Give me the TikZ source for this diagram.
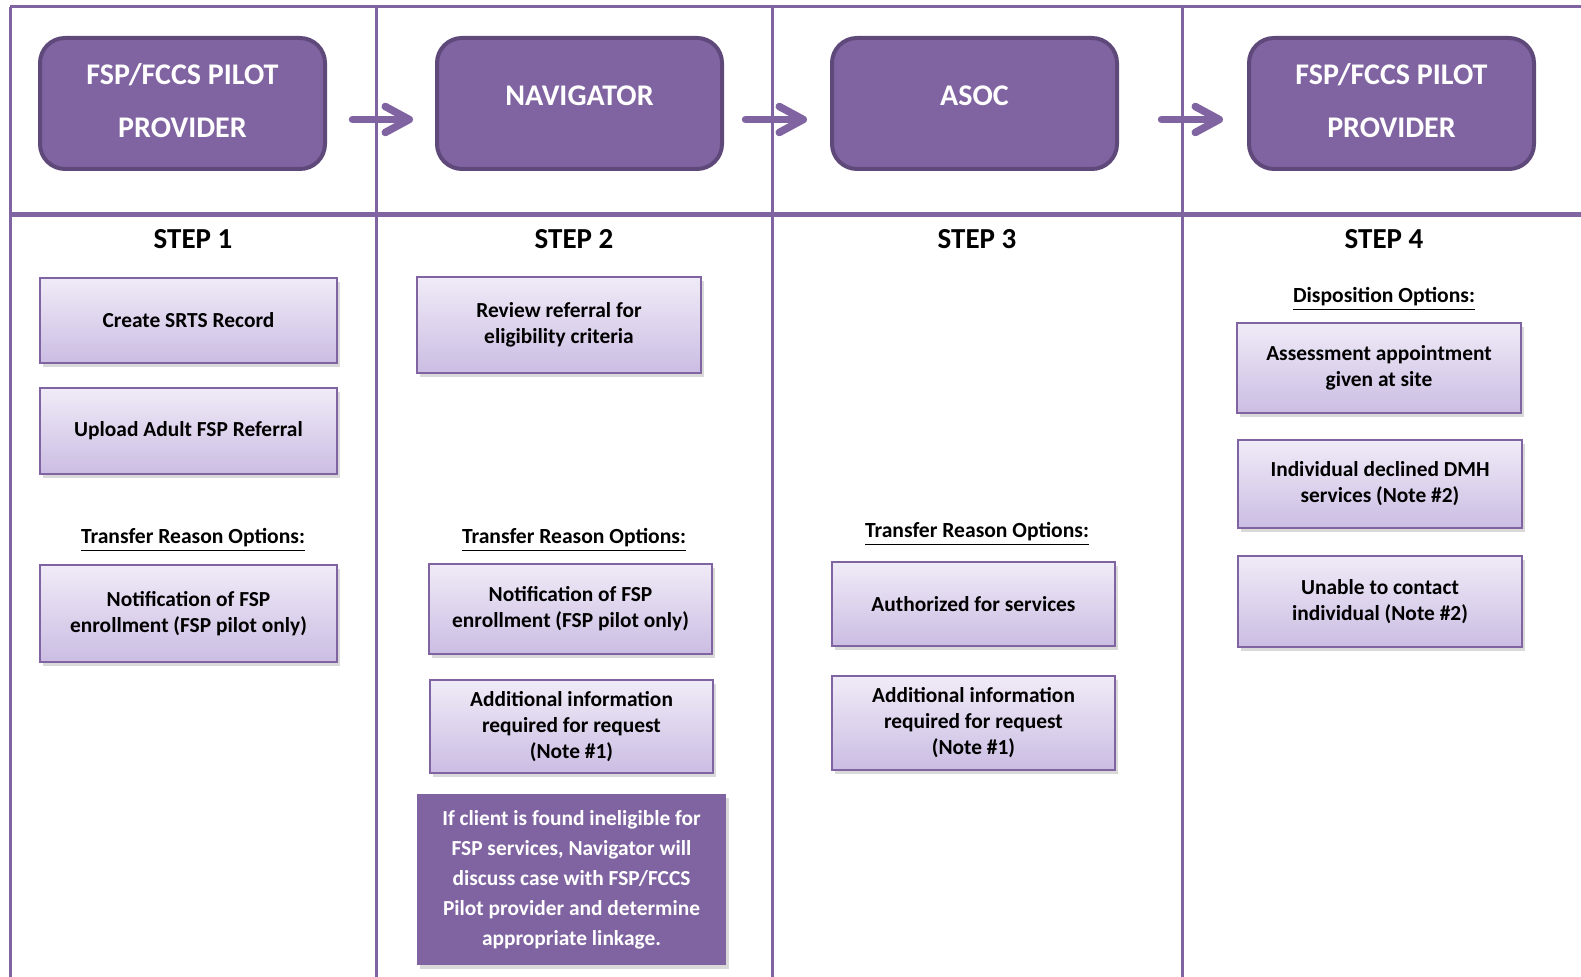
\documentclass[tikz,border=0pt]{standalone}
\usepackage{fontspec}
\setmainfont{Carlito}
\usetikzlibrary{arrows.meta,shadows,positioning}
\definecolor{plum}{HTML}{8064A2}
\definecolor{plumdark}{HTML}{5F497A}
\definecolor{lilactop}{HTML}{F0EBF7}
\definecolor{lilacbot}{HTML}{CBBDE3}
\tikzset{
  px/.style 2 args={minimum width=#1*0.5pt, minimum height=#2*0.5pt},
  head/.style={rounded corners=12.5pt, fill=plum, draw=plumdark, line width=2pt,
    text=white, align=center, inner sep=0pt,
    font=\bfseries\fontsize{15}{26.2}\selectfont},
  task/.style={draw=plum, line width=1pt, top color=lilactop, bottom color=lilacbot,
    align=center, inner sep=0pt, font=\bfseries\fontsize{10.7}{13}\selectfont,
    drop shadow={opacity=0.3, shadow xshift=1.5pt, shadow yshift=-2pt}},
  remark/.style={fill=plum, text=white, align=center, inner sep=0pt,
    font=\bfseries\fontsize{10.7}{15}\selectfont,
    drop shadow={opacity=0.3, shadow xshift=1.5pt, shadow yshift=-2pt}},
  steplabel/.style={font=\bfseries\fontsize{14.5}{16}\selectfont},
  optlabel/.style={font=\bfseries\fontsize{10.8}{12}\selectfont},
  frame/.style={draw=plum, line width=1.5pt},
  flow/.style={plum, line width=3.75pt, line cap=round,
    -{Straight Barb[length=12pt, width=13pt, round]}}
}
\begin{document}
\begin{tikzpicture}[x={(0.5pt,0)}, y={(0,-0.5pt)}]
        \useasboundingbox (0,0) rectangle (1581,977);

        % lanes
        \draw[frame] (10,7) -- (1581,7);
        \draw[frame, line width=2.5pt] (10,215) -- (1581,215);
        \foreach \x in {10,376,772,1182}
          \draw[frame] (\x,7) -- (\x,977);

        % header
        \node[head, px={285}{131}, text depth=3pt] (hdA) at (182.5,103.5) {FSP/FCCS PILOT\\PROVIDER};
        \node[head, px={285}{131}, text depth=8pt] (hdB) at (579.5,103.5) {NAVIGATOR};
        \node[head, px={285}{131}, text depth=8pt] (hdC) at (974.5,103.5) {ASOC};
        \node[head, px={285}{131}, text depth=3pt] (hdD) at (1391.5,103.5) {FSP/FCCS PILOT\\PROVIDER};

        \draw[flow, shorten <=12.75pt, shorten >=11pt] ([yshift=-8pt]hdA.east) -- ([yshift=-8pt]hdB.west);
        \draw[flow, shorten <=10.75pt, shorten >=11.5pt] ([yshift=-8pt]hdB.east) -- ([yshift=-8pt]hdC.west);
        \draw[flow, shorten <=21.25pt, shorten >=12pt] ([yshift=-8pt]hdC.east) -- ([yshift=-8pt]hdD.west);

        % step 1
        \node[steplabel] (st1) at (193,239) {STEP 1};
        \node[task, px={297}{85}] (create) at (188.5,320.5) {Create SRTS Record};
        \node[task, px={297}{86}] (upload) at (188.5,431) {Upload Adult FSP Referral};
        \node[optlabel] (opt1) at (193,540) {\underline{Transfer Reason Options:}};
        \node[task, px={297}{97}] (notif1) at (188.5,613.5) {Notification of FSP\\enrollment (FSP pilot only)};

        % step 2
        \node[steplabel] (st2) at (574,239) {STEP 2};
        \node[task, px={284}{96}] (review) at (559,325) {Review referral for\\eligibility criteria};
        \node[optlabel] (opt2) at (574,540) {\underline{Transfer Reason Options:}};
        \node[task, px={283}{90}] (notif2) at (570.5,609) {Notification of FSP\\enrollment (FSP pilot only)};
        \node[task, px={283}{93}] (addinfo2) at (571.5,726.5) {Additional information\\required for request\\(Note \#1)};
        \node[remark, px={309}{171}] (inelig) at (571.5,879.5) {If client is found ineligible for\\FSP services, Navigator will\\discuss case with FSP/FCCS\\Pilot provider and determine\\appropriate linkage.};

        % step 3
        \node[steplabel] (st3) at (977,239) {STEP 3};
        \node[optlabel] (opt3) at (977,534) {\underline{Transfer Reason Options:}};
        \node[task, px={283}{84}] (auth) at (973.5,604) {Authorized for services};
        \node[task, px={283}{94}] (addinfo3) at (973.5,723) {Additional information\\required for request\\(Note \#1)};

        % step 4
        \node[steplabel] (st4) at (1384,239) {STEP 4};
        \node[optlabel] (opt4) at (1384,299) {\underline{Disposition Options:}};
        \node[task, px={284}{90}] (assess) at (1379,368) {Assessment appointment\\given at site};
        \node[task, px={284}{88}] (declined) at (1380,484) {Individual declined DMH\\services (Note \#2)};
        \node[task, px={284}{91}] (unable) at (1380,601.5) {Unable to contact\\individual (Note \#2)};
      \end{tikzpicture}
\end{document}
